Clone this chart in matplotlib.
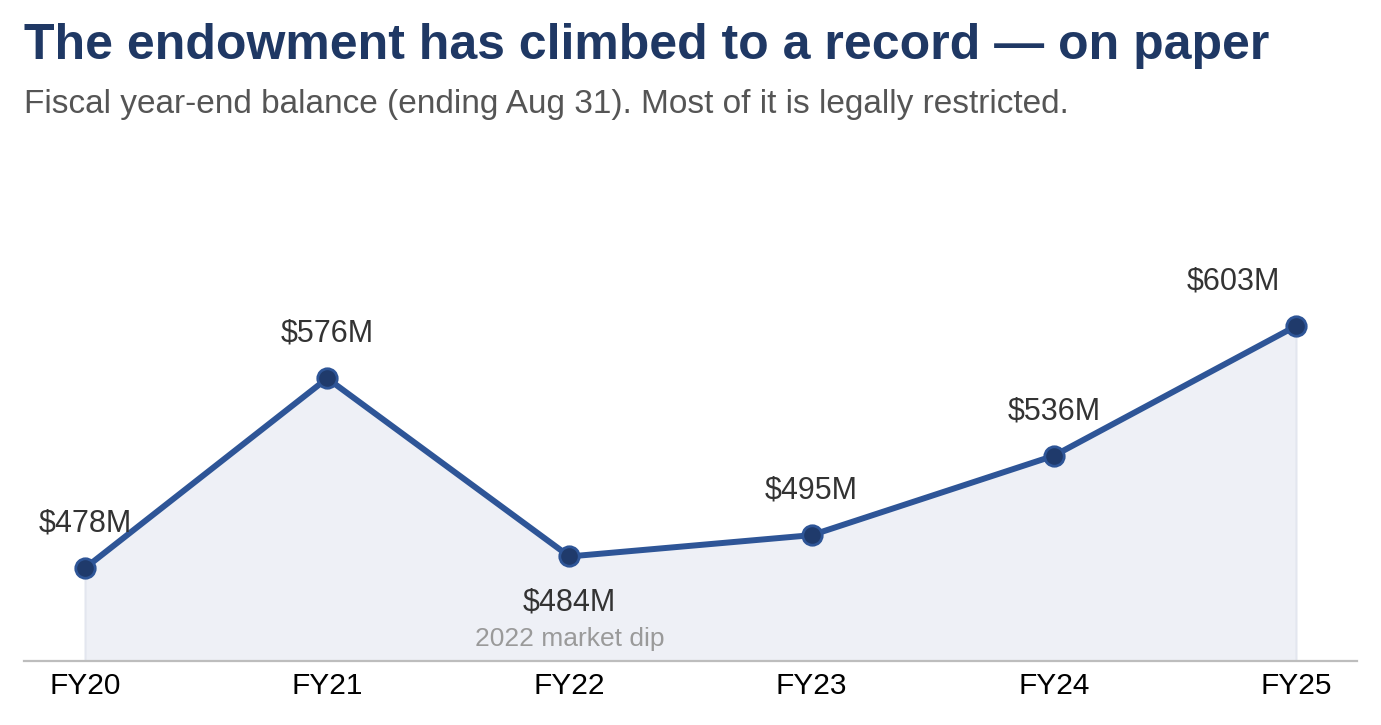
import numpy as np
import matplotlib
matplotlib.use("Agg")
from matplotlib import pyplot as plt

plt.rcParams['font.family'] = ['Liberation Sans', 'DejaVu Sans']

years = ["FY20", "FY21", "FY22", "FY23", "FY24", "FY25"]
balance = [478, 576, 484, 495, 536, 603]
labels = ["$478M", "$576M", "$484M", "$495M", "$536M", "$603M"]
note = "2022 market dip"

LINE = "#2e5597"
DOT = "#1f3a6b"
TITLE = "#1f3864"

fig = plt.figure(figsize=(13.81, 7.25), dpi=100)
ax = fig.add_axes([24 / 1381, 64 / 725, (1357 - 24) / 1381, 511 / 725])

x = np.arange(len(years))
ax.fill_between(x, 430, balance, color="#eef0f6", edgecolor="#e3e6ef", linewidth=1.5, zorder=1)
ax.plot(x, balance, color=LINE, linewidth=4.3, zorder=3,
        marker="o", markersize=14, markerfacecolor=DOT,
        markeredgecolor=LINE, markeredgewidth=2)

for i, (v, t) in enumerate(zip(balance, labels)):
    if i == 2:
        ax.annotate(t, (i, v), xytext=(0, -33.5), textcoords="offset points",
                    ha="center", va="center", fontsize=22, color="#333333")
        ax.annotate(note, (i, v), xytext=(0, -59.5), textcoords="offset points",
                    ha="center", va="center", fontsize=19, color="#9a9a9a")
    else:
        # last label is pulled left so it stays inside the plot
        dx = -45 if i == len(balance) - 1 else 0
        ax.annotate(t, (i, v), xytext=(dx, 32), textcoords="offset points",
                    ha="center", va="center", fontsize=22, color="#333333")

ax.set_xlim(-0.252, 5.252)
ax.set_ylim(430, 430 + 511 / 1.936)
ax.set_xticks(x)
ax.set_xticklabels(years, fontsize=21.5, color="black")
ax.set_yticks([])
ax.tick_params(axis="x", length=0, pad=8)
for s in ["top", "left", "right"]:
    ax.spines[s].set_visible(False)
ax.spines["bottom"].set_color("#bdbdbd")
ax.spines["bottom"].set_linewidth(1.6)
ax.patch.set_alpha(0)

fig.text(24 / 1381, 1 - 46 / 725, "The endowment has climbed to a record \u2014 on paper",
         fontsize=36, fontweight="bold", color=TITLE, va="center", ha="left")
fig.text(24 / 1381, 1 - 104 / 725,
         "Fiscal year-end balance (ending Aug 31). Most of it is legally restricted.",
         fontsize=24, color="#555555", va="center", ha="left")

fig.savefig("out.png", dpi=100)
